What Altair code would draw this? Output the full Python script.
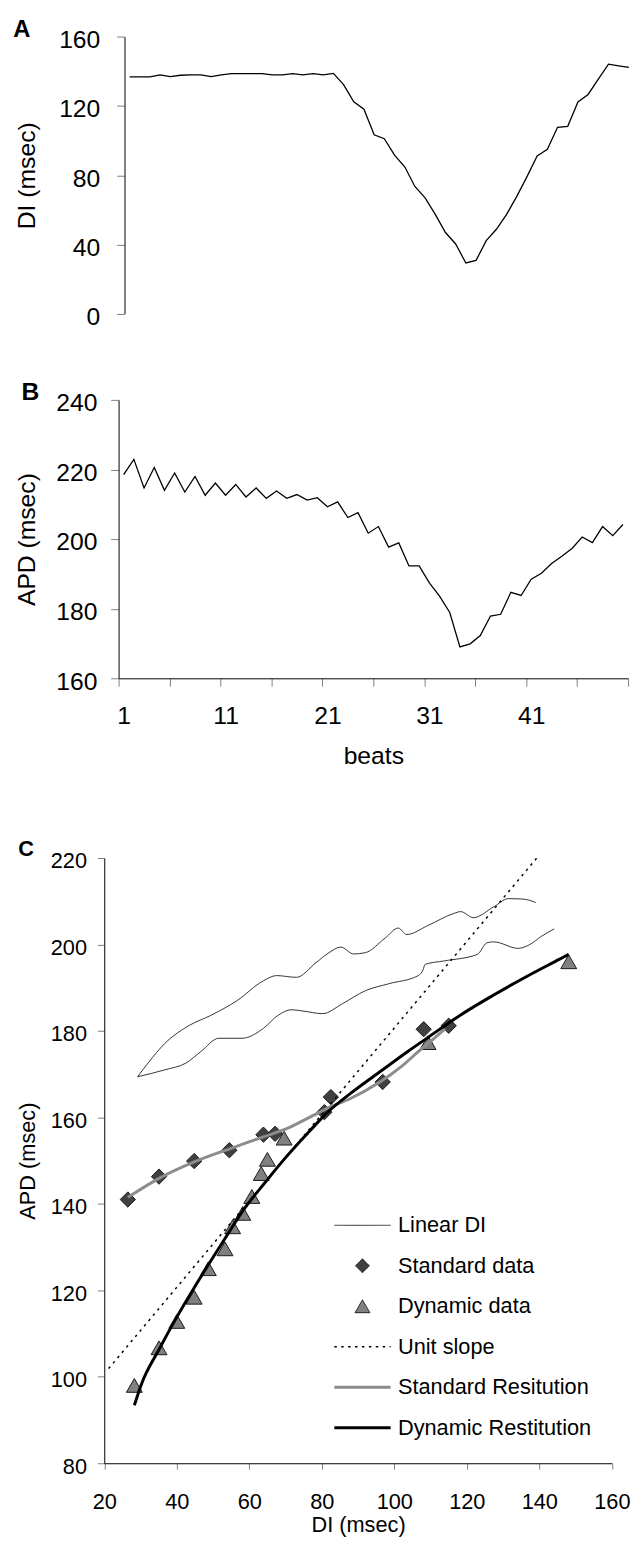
import altair as alt
import pandas as pd

FONT = "Liberation Sans, Arial, Helvetica, sans-serif"

# ---------------- data ----------------
beats = list(range(1, 51))
di_beats = [136.8, 136.8, 136.8, 138.0, 137.0, 137.8, 138.0, 138.0, 137.0, 138.0,
            138.7, 138.7, 138.7, 138.7, 138.0, 138.0, 138.7, 138.0, 138.7, 138.0,
            138.9, 132.4, 122.4, 118.2, 103.4, 101.1, 91.6, 84.9, 73.5, 66.9,
            57.4, 46.9, 40.3, 29.3, 30.8, 42.2, 48.8, 57.4, 67.8, 79.2,
            91.2, 95.0, 107.7, 108.3, 122.4, 126.7, 135.6, 144.2, 143.2, 142.3]
apd_beats = [218.5, 222.9, 214.7, 220.6, 214.0, 219.0, 213.5, 218.0, 212.6, 216.1,
             212.6, 215.7, 212.1, 214.7, 211.7, 213.8, 211.7, 212.8, 211.2, 211.9,
             209.3, 210.7, 206.2, 207.6, 201.7, 203.6, 197.7, 198.9, 192.3, 192.3,
             187.4, 183.6, 178.9, 169.0, 169.9, 172.3, 177.9, 178.4, 184.7, 183.8,
             188.5, 190.2, 193.0, 195.1, 197.3, 200.6, 199.0, 203.6, 201.0, 204.2]

lin_up_di = [29.2, 32.1, 36.7, 43.5, 49.4, 56.6, 63.9, 67.5, 73.0, 78.4, 82.0, 85.2, 88.8,
             92.0, 97.5, 101.1, 103.4, 109.3, 116.5, 118.3, 121.8, 127.4, 131.5, 135.5, 139.0]
lin_up_apd = [169.4, 172.6, 177.1, 181.3, 183.6, 187.0, 191.6, 192.8, 192.4, 195.8, 198.1, 199.4, 197.8,
              198.1, 201.5, 203.8, 202.3, 204.4, 207.2, 207.6, 206.2, 208.7, 210.6, 210.5, 209.7]
lin_lo_di = [29.2, 36.7, 42.6, 46.6, 51.6, 58.0, 63.9, 67.9, 71.6, 74.8, 80.2, 85.7, 92.0,
             98.4, 106.6, 107.9, 108.5, 113.8, 122.9, 125.6, 127.4, 134.2, 137.4, 140.6, 144.1]
lin_lo_apd = [169.4, 171.0, 172.6, 175.2, 178.3, 178.3, 180.6, 183.6, 184.9, 184.6, 184.0, 186.3, 189.3,
              190.9, 192.8, 194.1, 195.4, 196.2, 197.7, 200.4, 200.6, 199.1, 200.0, 201.9, 203.6]

std_di = [26.5, 35.1, 44.8, 54.5, 63.9, 67.1, 80.7, 82.5, 96.8, 108.1, 115.0]
std_apd = [141.0, 146.3, 149.9, 152.4, 156.0, 156.2, 161.2, 164.7, 168.2, 180.4, 181.2]

dyn_di = [28.3, 35.1, 40.0, 44.8, 48.7, 53.3, 55.4, 58.2, 60.7, 63.3, 65.0, 69.6, 109.3, 148.1]
dyn_apd = [98.0, 106.7, 112.8, 118.4, 125.0, 129.6, 134.7, 137.8, 141.7, 147.0, 150.3, 155.2, 177.3, 196.0]

unit_di = [21.2, 139.5]
unit_apd = [101.9, 220.2]

stdfit_di = [26.5, 35.1, 44.8, 54.8, 63.9, 71.1, 77.5, 82.0, 87.5, 95.7, 102.0, 106.6, 109.3, 114.0]
stdfit_apd = [141.5, 145.9, 149.7, 152.8, 155.5, 157.7, 160.4, 162.3, 164.2, 168.0, 171.8, 175.2, 177.1, 180.5]

dynfit_di = [28.3, 30.3, 35.1, 40.0, 44.8, 48.7, 53.3, 58.4, 64.8, 69.3, 76.6, 82.0, 88.0,
             96.6, 103.8, 109.3, 118.3, 127.4, 136.5, 145.6, 148.1]
dynfit_apd = [93.4, 98.4, 106.3, 113.8, 120.6, 125.9, 132.0, 138.6, 145.4, 150.0, 156.8, 161.5, 165.6,
              170.9, 175.3, 178.5, 183.7, 188.3, 192.6, 196.6, 197.7]

legend_names = ["Linear DI", "Standard data", "Dynamic data", "Unit slope",
                "Standard Resitution", "Dynamic Restitution"]
panel_letters = ["A", "B", "C"]

# ---------------- tables ----------------
dfAB = pd.DataFrame({"beat": beats, "DI": di_beats, "APD": apd_beats})
dfLin = pd.concat([
    pd.DataFrame({"DI": lin_up_di, "APD": lin_up_apd, "branch": "up", "o": range(len(lin_up_di))}),
    pd.DataFrame({"DI": lin_lo_di, "APD": lin_lo_apd, "branch": "lo", "o": range(len(lin_lo_di))}),
])
dfStd = pd.DataFrame({"DI": std_di, "APD": std_apd})
dfDyn = pd.DataFrame({"DI": dyn_di, "APD": dyn_apd})
dfUnit = pd.DataFrame({"DI": unit_di, "APD": unit_apd})
dfStdFit = pd.DataFrame({"DI": stdfit_di, "APD": stdfit_apd})
dfDynFit = pd.DataFrame({"DI": dynfit_di, "APD": dynfit_apd})
dfLeg = pd.DataFrame({"series": legend_names})

W, H = 632, 1545
FS_AB = 25
FS_C = 22


def yaxis(x_local, values, title, fs, tick, pad, title_x):
    return alt.Axis(orient="left", offset=-x_local, values=values, title=title, format="d",
                    labelFont=FONT, labelFontSize=fs, labelColor="black", labelPadding=pad,
                    labelOffset=3, tickSize=tick, tickColor="#808080", domainColor="black",
                    grid=False, titleFont=FONT, titleFontSize=fs, titleFontWeight="normal",
                    titleColor="black", titleX=title_x, titleBaseline="middle",
                    labelFlush=False, labelOverlap=False)


# ---------------- panel A ----------------
xA = alt.Scale(domain=[0.5, 50.5], range=[118, 634], nice=False, zero=False)
yA = alt.Scale(domain=[0, 160], range=[299.7, 19.3], nice=False, zero=False)
lineA = alt.Chart(dfAB).mark_line(color="black", strokeWidth=1.3).encode(
    x=alt.X("beat:Q", scale=xA, axis=None),
    y=alt.Y("DI:Q", scale=yA,
            axis=yaxis(118, [0, 40, 80, 120, 160], "DI (msec)", FS_AB, 8, 17, -99)),
)

# ---------------- panel B ----------------
xB = alt.Scale(domain=[0.5, 50.5], range=[112, 628], nice=False, zero=False)
yB = alt.Scale(domain=[160, 240], range=[669, 387], nice=False, zero=False)
b_ticks = [0.5 + 5 * i for i in range(11)]
lineB = alt.Chart(dfAB).mark_line(color="black", strokeWidth=1.3).encode(
    x=alt.X("beat:Q", scale=xB,
            axis=alt.Axis(orient="bottom", offset=669 - H, values=b_ticks,
                          labelExpr="(datum.value + 0.5) % 10 == 1 && datum.value < 50 ? format(datum.value + 0.5, 'd') : ''",
                          labelOffset=5.16, labelFont=FONT, labelFontSize=FS_AB, labelColor="black",
                          labelPadding=18, tickSize=8, tickColor="#808080", domainColor="black",
                          grid=False, title="beats", titleFont=FONT, titleFontSize=FS_AB,
                          titleFontWeight="normal", titleColor="black", titleY=78,
                          titleBaseline="middle", labelFlush=False, labelOverlap=False)),
    y=alt.Y("APD:Q", scale=yB,
            axis=yaxis(112, [160, 180, 200, 220, 240], "APD (msec)", FS_AB, 8, 14, -93)),
)

# ---------------- panel C ----------------
xC = alt.Scale(domain=[20, 160], range=[97.5, 611.6], nice=False, zero=False)
yC = alt.Scale(domain=[80, 220], range=[1464, 851], nice=False, zero=False)
xC_axis = alt.Axis(orient="bottom", offset=1464 - H, values=list(range(20, 161, 20)), format="d",
                   labelFont=FONT, labelFontSize=FS_C, labelColor="black", labelPadding=22.5,
                   tickSize=6, tickColor="#808080", domainColor="black", grid=False,
                   title="DI (msec)", titleFont=FONT, titleFontSize=FS_C, titleFontWeight="normal",
                   titleColor="black", titleY=62.5, titleBaseline="middle",
                   labelFlush=False, labelOverlap=False)
yC_axis = yaxis(97.5, list(range(80, 221, 20)), "APD (msec)", FS_C, 7, 11, -78)


def cx(axis=None):
    return alt.X("DI:Q", scale=xC, axis=axis)


def cy(axis=None):
    return alt.Y("APD:Q", scale=yC, axis=axis)


stdPts = alt.Chart(dfStd).mark_point(shape="diamond", filled=True, fill="#404040", stroke="#1a1a1a",
                                     strokeWidth=1, size=240, opacity=1).encode(x=cx(), y=cy())
dynPts = alt.Chart(dfDyn).mark_point(shape="triangle-up", filled=True, fill="#808080", stroke="#1a1a1a",
                                     strokeWidth=1, size=260, opacity=1).encode(x=cx(), y=cy())
linDI = alt.Chart(dfLin).mark_line(color="#333333", strokeWidth=1, interpolate="monotone").encode(
    x=cx(xC_axis), y=cy(yC_axis), detail="branch:N", order="o:Q")
unitLine = alt.Chart(dfUnit).mark_line(color="black", strokeWidth=1.5, strokeDash=[2.5, 4.5]).encode(
    x=cx(), y=cy())
stdFit = alt.Chart(dfStdFit).mark_line(color="#8c8c8c", strokeWidth=3, interpolate="monotone").encode(
    x=cx(), y=cy())
dynFit = alt.Chart(dfDynFit).mark_line(color="black", strokeWidth=3, interpolate="monotone").encode(
    x=cx(), y=cy())

# ---------------- legend (native, merged from several channels) ----------------
LINE = "M-3,0H3"
leg = alt.Legend(title=None, orient="none", legendX=348, legendY=1212, padding=0,
                 labelFont=FONT, labelFontSize=FS_C, labelColor="black", labelOffset=25,
                 labelLimit=400, rowPadding=19, symbolLimit=0, symbolOpacity=1)
legend_layer = alt.Chart(dfLeg).transform_filter("false").mark_point(opacity=1).encode(
    shape=alt.Shape("series:N", legend=leg,
                    scale=alt.Scale(domain=legend_names,
                                    range=[LINE, "diamond", "triangle-up", LINE, LINE, LINE])),
    fill=alt.Fill("series:N", legend=leg,
                  scale=alt.Scale(domain=legend_names,
                                  range=["transparent", "#404040", "#808080", "transparent",
                                         "transparent", "transparent"])),
    stroke=alt.Stroke("series:N", legend=leg,
                      scale=alt.Scale(domain=legend_names,
                                      range=["#333333", "#1a1a1a", "#1a1a1a", "#000000",
                                             "#8c8c8c", "#000000"])),
    strokeDash=alt.StrokeDash("series:N", legend=leg,
                              scale=alt.Scale(domain=legend_names,
                                              range=[[1, 0], [1, 0], [1, 0], [2.5, 4.5], [1, 0], [1, 0]])),
    strokeWidth=alt.StrokeWidth("series:N", legend=leg,
                                scale=alt.Scale(type="ordinal", domain=legend_names,
                                                range=[1, 1, 1, 1.5, 3, 3])),
    size=alt.Size("series:N", legend=leg,
                  scale=alt.Scale(type="ordinal", domain=legend_names,
                                  range=[361, 196, 225, 361, 361, 361])),
)

# ---------------- panel letters ----------------
def letter(ch, x, y, fs):
    return alt.Chart(pd.DataFrame({"label": [ch]})).mark_text(
        font=FONT, fontSize=fs, fontWeight="bold", align="center", baseline="alphabetic",
        color="black").encode(x=alt.value(x), y=alt.value(y), text="label:N")


letters = [letter(panel_letters[0], 14, 19, 24),
           letter(panel_letters[1], 22.8, 387, 25),
           letter(panel_letters[2], 18.3, 848.7, 22)]

chart = alt.layer(
    lineA, lineB, stdPts, dynPts, linDI, unitLine, stdFit, dynFit, legend_layer, *letters
).resolve_scale(x="independent", y="independent").properties(
    width=W, height=H, autosize=alt.AutoSizeParams(type="none"), padding=0
).configure_view(stroke=None).configure_axis(grid=False)

chart.save("out.html", embed_options={"renderer": "svg", "actions": False})
